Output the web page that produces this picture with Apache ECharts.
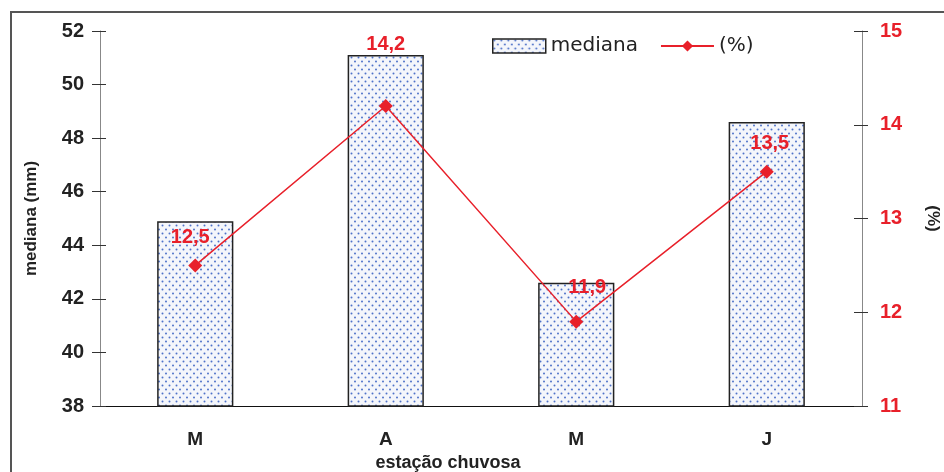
<!DOCTYPE html>
<html><head><meta charset="utf-8">
<script src="https://cdn.jsdelivr.net/npm/echarts@6/dist/echarts.min.js"></script>
<style>html,body{margin:0;padding:0;background:#fff}#c{width:944px;height:472px}</style>
</head><body><div id="c"></div>
<script>
const categories = ['M', 'A', 'M', 'J'];
const mediana = [44.9, 51.1, 42.6, 48.6];
const percent = [12.5, 14.2, 11.9, 13.5];
const leftTicks = [38, 52, 2];
const rightTicks = [11, 15, 1];

// dotted fill pattern
const pat = document.createElement('canvas');
pat.width = 7; pat.height = 8;
const pc = pat.getContext('2d');
pc.fillStyle = '#f4f6fb'; pc.fillRect(0, 0, 7, 8);
pc.fillStyle = '#4f72c8';
[[1.5,1.5],[5,5.5]].forEach(p => { pc.beginPath(); pc.arc(p[0], p[1], 1.0, 0, Math.PI*2); pc.fill(); });

const labelOffsets = [[-5, -6], [0, -40], [11, -12], [3, -6]];
const red = '#e8202a';
const font = '"Liberation Sans", Arial, sans-serif';
const tickAxis = (pos, t, inside) => ({
  type: 'value', position: pos, min: t[0], max: t[1], interval: t[2],
  axisLine: { show: false }, axisLabel: { show: false }, splitLine: { show: false },
  axisTick: { show: true, length: 6, inside: inside, lineStyle: { color: '#333' } }
});
const chart = echarts.init(document.getElementById('c'));
chart.setOption({
  animation: false,
  graphic: [{ type: 'rect', shape: { x: 11, y: 12, width: 940, height: 470 }, style: { fill: 'none', stroke: '#555', lineWidth: 2 }, z: 0 }],
  grid: { left: 100, right: 82, top: 31, bottom: 66, outerBoundsMode: 'none', containLabel: false },
  legend: {
    top: 31, left: 487, itemGap: 22, itemWidth: 53, itemHeight: 14,
    textStyle: { fontFamily: '"DejaVu Sans", sans-serif', fontSize: 20, color: '#222' },
    data: [
      { name: 'mediana', icon: 'rect', itemStyle: { color: { image: pat, repeat: 'repeat' }, borderColor: '#222', borderWidth: 1.5 } },
      { name: '(%)' }
    ]
  },
  xAxis: {
    type: 'category', data: categories,
    axisLine: { lineStyle: { color: '#111', width: 1 } },
    axisTick: { length: 6, lineStyle: { color: '#111' } },
    axisLabel: { fontFamily: font, fontWeight: 'bold', fontSize: 19, color: '#222', margin: 24 },
    name: 'estação chuvosa', nameLocation: 'middle', nameGap: 47,
    nameTextStyle: { fontFamily: font, fontWeight: 'bold', fontSize: 18, color: '#222', padding: [0, 66, 0, 0] }
  },
  yAxis: [
    {
      type: 'value', position: 'left', min: leftTicks[0], max: leftTicks[1], interval: leftTicks[2],
      axisLine: { show: true, lineStyle: { color: '#888' } },
      axisTick: { show: true, length: 8, lineStyle: { color: '#333' } },
      splitLine: { show: false },
      axisLabel: { fontFamily: font, fontWeight: 'bold', fontSize: 20, color: '#222', margin: 16 },
      name: 'mediana (mm)', nameLocation: 'middle', nameGap: 60,
      nameTextStyle: { fontFamily: font, fontWeight: 'bold', fontSize: 17, color: '#222' }
    },
    {
      type: 'value', position: 'right', min: rightTicks[0], max: rightTicks[1], interval: rightTicks[2],
      axisLine: { show: true, lineStyle: { color: '#888' } },
      axisTick: { show: true, length: 8, inside: true, lineStyle: { color: '#333' } },
      splitLine: { show: false },
      axisLabel: { fontFamily: font, fontWeight: 'bold', fontSize: 20, color: red, margin: 18 },
      name: '(%)', nameLocation: 'middle', nameGap: 62, nameRotate: -90,
      nameTextStyle: { fontFamily: font, fontWeight: 'bold', fontSize: 17, color: '#222' }
    },
    tickAxis('left', leftTicks, true),
    tickAxis('right', rightTicks, false)
  ],
  series: [
    {
      name: 'mediana', type: 'bar', data: mediana, barWidth: '40%',
      itemStyle: { color: { image: pat, repeat: 'repeat' }, borderColor: '#222', borderWidth: 1.5 },
      z: 2
    },
    {
      name: '(%)', type: 'line', yAxisIndex: 1,
      data: percent.map((v, i) => ({ value: v, label: { offset: labelOffsets[i] } })),
      symbol: 'diamond', symbolSize: 14,
      lineStyle: { color: red, width: 1.5 }, itemStyle: { color: red },
      label: { show: true, position: 'top', fontFamily: font, fontWeight: 'bold', fontSize: 20, color: red,
        formatter: p => p.value.toFixed(1).replace('.', ',') },
      z: 3
    }
  ]
});
</script></body></html>
